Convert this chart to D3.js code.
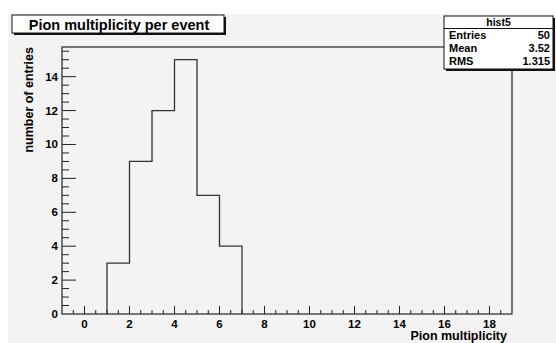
<!DOCTYPE html>
<html>
<head>
<meta charset="utf-8">
<script src="https://cdn.jsdelivr.net/npm/d3@7"></script>
<style>
  body { margin: 0; background: #fff; }
  text { font-family: "Liberation Sans", Arial, sans-serif; font-weight: bold; fill: #000; }
</style>
</head>
<body>
<div id="vis"></div>
<script>
// histogram bins: lower edges and counts
let binEdges = [1, 2, 3, 4, 5, 6]
let binWidth = 1
let counts = [3, 9, 12, 15, 7, 4]
let xTicks = [0, 2, 4, 6, 8, 10, 12, 14, 16, 18]
let yTicks = [0, 2, 4, 6, 8, 10, 12, 14]
let statLabels = ["Entries", "Mean", "RMS"]
let statValues = ["50", "3.52", "1.315"]

function drawHist(){
    let width = 556
    let height = 343
    let margin = {top: 47, bottom: 29, left: 62, right: 44}

    let svg = d3.select("#vis")
        .append("svg")
            .attr("width", width)
            .attr("height", height)

    // canvas pad
    svg.append("rect")
        .attr("x", 8).attr("y", 14)
        .attr("width", width - 8).attr("height", height - 14)
        .attr("fill", "#f3f3f3")

    let x = d3.scaleLinear()
        .domain([-1, 19])
        .range([margin.left, width - margin.right])
    let y = d3.scaleLinear()
        .domain([0, 15.75])
        .range([height - margin.bottom, margin.top])

    // frame
    svg.append("rect")
        .attr("x", x(-1)).attr("y", y(15.75))
        .attr("width", x(19) - x(-1)).attr("height", y(0) - y(15.75))
        .attr("fill", "none")
        .attr("stroke", "#333")
        .attr("stroke-width", 1.3)

    // x axis ticks
    let xMinor = d3.range(-0.5, 19, 0.5)
    svg.selectAll(".xtick")
        .data(xMinor)
        .enter()
        .append("line")
            .attr("class", "xtick")
            .attr("x1", d => x(d)).attr("x2", d => x(d))
            .attr("y1", y(0))
            .attr("y2", d => y(0) - (d % 2 == 0 ? 8 : 4))
            .attr("stroke", "#222")
            .attr("stroke-width", 1)
    svg.selectAll(".xlabel")
        .data(xTicks)
        .enter()
        .append("text")
            .attr("class", "xlabel")
            .attr("x", d => x(d))
            .attr("y", y(0) + 13.5)
            .attr("text-anchor", "middle")
            .attr("font-size", "11.5px")
            .text(d => d)

    // y axis ticks
    let yMinor = d3.range(0.5, 15.75, 0.5)
    svg.selectAll(".ytick")
        .data(yMinor)
        .enter()
        .append("line")
            .attr("class", "ytick")
            .attr("x1", x(-1))
            .attr("x2", d => x(-1) + (d % 2 == 0 ? 14 : 7))
            .attr("y1", d => y(d)).attr("y2", d => y(d))
            .attr("stroke", "#222")
            .attr("stroke-width", 1)
    svg.selectAll(".ylabel")
        .data(yTicks)
        .enter()
        .append("text")
            .attr("class", "ylabel")
            .attr("x", x(-1) - 4)
            .attr("y", d => y(d) + 4)
            .attr("text-anchor", "end")
            .attr("font-size", "11.5px")
            .text(d => d)

    // histogram outline
    let pts = [[binEdges[0], 0]]
    binEdges.forEach(function(e, i){
        pts.push([e, counts[i]])
        pts.push([e + binWidth, counts[i]])
    })
    pts.push([binEdges[binEdges.length - 1] + binWidth, 0])
    let line = d3.line()
        .x(d => x(d[0]))
        .y(d => y(d[1]))
    svg.append("path")
        .attr("d", line(pts))
        .attr("fill", "none")
        .attr("stroke", "#333")
        .attr("stroke-width", 1.3)

    // axis titles
    svg.append("text")
        .attr("x", x(19) - 5)
        .attr("y", 340)
        .attr("text-anchor", "end")
        .attr("font-size", "12.5px")
        .text("Pion multiplicity")
    svg.append("text")
        .attr("transform", "translate(33," + y(15.75) + ") rotate(-90)")
        .attr("text-anchor", "end")
        .attr("font-size", "12.5px")
        .text("number of entries")

    // title box
    svg.append("rect")
        .attr("x", 14).attr("y", 17).attr("width", 212).attr("height", 18)
        .attr("fill", "#111")
    svg.append("rect")
        .attr("x", 12).attr("y", 15).attr("width", 212).attr("height", 18)
        .attr("fill", "#fff").attr("stroke", "#111").attr("stroke-width", 1)
    svg.append("text")
        .attr("x", 119).attr("y", 29.5)
        .attr("text-anchor", "middle")
        .attr("font-size", "14.5px")
        .text("Pion multiplicity per event")

    // stats box
    let sx = 444, sy = 16, sw = 109, sh = 53
    svg.append("rect")
        .attr("x", sx + 2).attr("y", sy + 2).attr("width", sw).attr("height", sh)
        .attr("fill", "#111")
    svg.append("rect")
        .attr("x", sx).attr("y", sy).attr("width", sw).attr("height", sh)
        .attr("fill", "#fff").attr("stroke", "#111").attr("stroke-width", 1)
    svg.append("line")
        .attr("x1", sx).attr("x2", sx + sw)
        .attr("y1", 28.5).attr("y2", 28.5)
        .attr("stroke", "#111")
    svg.append("text")
        .attr("x", sx + sw / 2).attr("y", 25.5)
        .attr("text-anchor", "middle")
        .attr("font-size", "10.5px")
        .attr("font-weight", "normal")
        .text("hist5")
    statLabels.forEach(function(l, i){
        svg.append("text")
            .attr("x", sx + 5).attr("y", 39 + i * 13)
            .attr("font-size", "11px")
            .text(l)
        svg.append("text")
            .attr("x", sx + sw - 3).attr("y", 39 + i * 13)
            .attr("text-anchor", "end")
            .attr("font-size", "11px")
            .text(statValues[i])
    })
}
drawHist()
</script>
</body>
</html>
